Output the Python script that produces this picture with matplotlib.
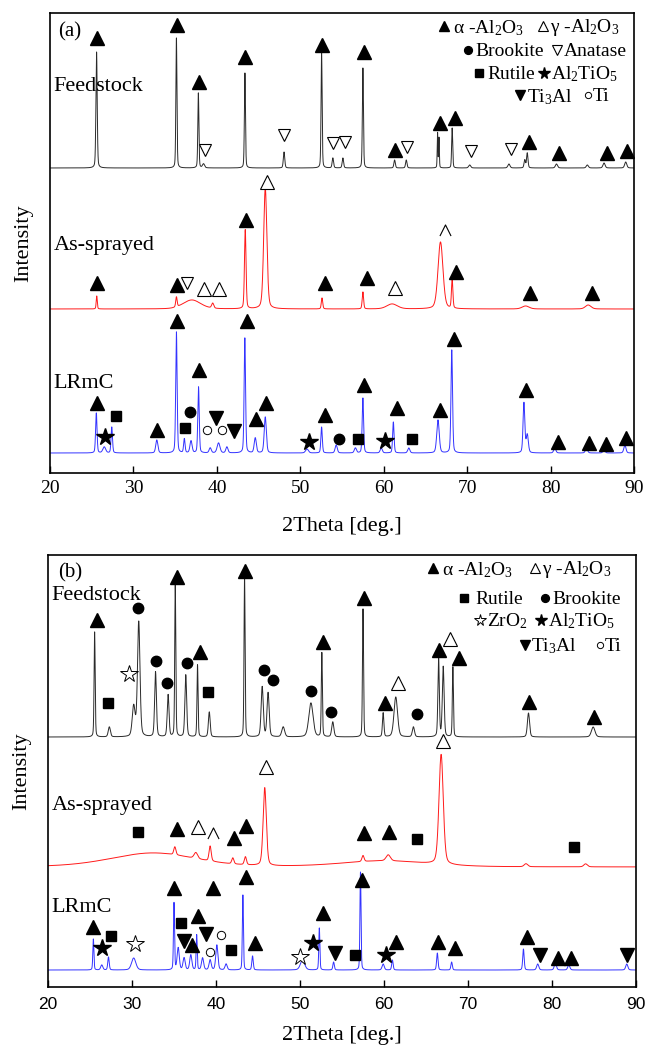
import numpy as np
import matplotlib
matplotlib.use("Agg")
import matplotlib.pyplot as plt

plt.rcParams["font.family"] = ["Liberation Serif", "DejaVu Serif"]
plt.rcParams["mathtext.fontset"] = "custom"
plt.rcParams["mathtext.rm"] = "Liberation Serif"
plt.rcParams["mathtext.default"] = "regular"

XTICKS = [20, 30, 40, 50, 60, 70, 80, 90]
X = np.arange(20, 90.001, 0.01)

# ---- panel (a): peak tables (2theta, height above baseline, FWHM) ----
A_FEED_BASE = 305
A_FEED_POS = [25.58, 35.15, 37.78, 38.4, 43.36, 48.05, 52.55, 53.9, 55.1, 57.5, 61.3, 62.7,
              66.45, 66.62, 68.2, 70.3, 75.0, 76.9, 77.2, 80.7, 84.4, 86.4, 89.0]
A_FEED_H = [116, 130, 75, 4, 95, 16, 116, 10, 10, 100, 8, 8, 35, 30, 40, 3, 4, 8, 15, 4, 3, 5, 6]
A_FEED_W = [0.18, 0.15, 0.15, 0.3, 0.15, 0.2, 0.15, 0.2, 0.2, 0.15, 0.2, 0.2, 0.1, 0.1, 0.15,
            0.3, 0.3, 0.2, 0.2, 0.3, 0.3, 0.3, 0.3]

A_SPR_BASE = 164
A_SPR_POS = [25.6, 35.15, 37.0, 39.5, 43.4, 45.8, 52.6, 57.5, 61.0, 66.8, 68.2, 77.0, 84.5]
A_SPR_H = [13, 10, 9, 5, 79, 121, 11, 17, 5, 67, 29, 3, 4]
A_SPR_W = [0.15, 0.2, 2.5, 0.3, 0.22, 0.45, 0.2, 0.2, 1.5, 0.7, 0.2, 1.0, 0.8]

A_LR_BASE = 20
A_LR_POS = [25.55, 26.5, 27.4, 32.8, 35.15, 36.1, 36.9, 37.8, 39.2, 40.2, 41.2, 43.35, 44.6,
            45.8, 50.8, 52.55, 54.3, 56.6, 57.5, 59.7, 61.15, 63.0, 66.5, 68.15, 76.8, 77.2,
            80.5, 84.3, 86.4, 88.9]
A_LR_H = [40, 6, 26, 13, 121, 14, 12, 66, 5, 10, 6, 115, 15, 36, 4, 26, 8, 5, 55, 5, 31, 5,
          33, 103, 50, 18, 5, 5, 3, 8]
A_LR_W = [0.2, 0.4, 0.2, 0.3, 0.2, 0.2, 0.3, 0.2, 0.3, 0.4, 0.3, 0.2, 0.3, 0.3, 0.4, 0.2, 0.3,
          0.3, 0.2, 0.3, 0.2, 0.3, 0.35, 0.22, 0.25, 0.3, 0.3, 0.3, 0.3, 0.3]

# ---- panel (b) ----
B_FEED_BASE = 250
B_FEED_POS = [25.55, 27.3, 30.2, 30.8, 32.8, 34.3, 35.15, 36.4, 37.8, 39.2, 43.4, 45.5, 46.2,
              48.0, 51.3, 52.6, 53.9, 57.5, 59.9, 61.4, 63.5, 66.5, 67.05, 68.2, 77.2, 84.9]
B_FEED_H = [105, 10, 30, 115, 65, 42, 152, 62, 72, 25, 160, 50, 44, 10, 34, 84, 15, 128, 24,
            40, 10, 79, 70, 70, 24, 10]
B_FEED_W = [0.15, 0.3, 0.4, 0.35, 0.25, 0.25, 0.15, 0.25, 0.15, 0.25, 0.15, 0.3, 0.3, 0.4,
            0.6, 0.15, 0.3, 0.15, 0.2, 0.5, 0.3, 0.2, 0.25, 0.15, 0.3, 0.5]

B_SPR_BASE = 120
B_SPR_POS = [32.5, 60.0, 35.1, 37.6, 39.3, 42.0, 43.5, 45.8, 57.5, 60.5, 66.8, 76.9, 84.0]
B_SPR_H = [14, 6, 8, 6, 15, 6, 8, 78, 6, 6, 110, 3, 3]
B_SPR_W = [12, 12, 0.3, 0.5, 0.3, 0.3, 0.3, 0.45, 0.3, 0.6, 0.6, 0.5, 0.5]

B_LR_BASE = 17
B_LR_POS = [25.4, 26.4, 27.2, 30.2, 35.0, 35.5, 36.2, 37.0, 37.7, 38.4, 39.3, 40.1, 41.2,
            43.2, 44.35, 50.3, 52.3, 54.0, 57.2, 59.9, 61.0, 66.35, 68.05, 76.6, 78.3, 80.4,
            82.0, 88.9]
B_LR_H = [31, 5, 13, 12, 67, 22, 12, 15, 35, 12, 10, 25, 6, 75, 14, 10, 42, 8, 98, 6, 10, 17,
          8, 21, 6, 7, 5, 6]
B_LR_W = [0.15, 0.3, 0.2, 0.6, 0.15, 0.3, 0.3, 0.3, 0.15, 0.3, 0.3, 0.3, 0.3, 0.15, 0.2, 0.6,
          0.15, 0.2, 0.15, 0.3, 0.2, 0.2, 0.2, 0.2, 0.3, 0.3, 0.3, 0.3]

# ---- phase markers: (phase, 2theta, height) ----
A_FEED_MARKS = [("a", 25.6, 435), ("a", 35.2, 448), ("a", 37.8, 391), ("a", 43.4, 416),
                ("a", 52.6, 428), ("a", 57.6, 421), ("a", 61.4, 323), ("a", 66.7, 350),
                ("a", 68.5, 355), ("a", 77.4, 331), ("a", 81.0, 320), ("a", 86.7, 320),
                ("a", 89.1, 322),
                ("n", 38.6, 323), ("n", 48.1, 338), ("n", 53.9, 330), ("n", 55.4, 331),
                ("n", 62.8, 326), ("n", 70.5, 322), ("n", 75.3, 324)]
A_SPR_MARKS = [("a", 25.6, 190), ("a", 35.2, 188), ("a", 43.5, 253), ("a", 52.9, 190),
               ("a", 58.0, 195), ("a", 68.6, 201), ("a", 77.5, 180), ("a", 84.9, 180),
               ("n", 36.4, 190), ("g", 38.5, 184), ("g", 40.3, 184), ("g", 46.0, 291),
               ("g", 61.3, 185), ("h", 67.3, 243)]
A_LR_MARKS = [("a", 25.6, 70), ("a", 32.8, 43), ("a", 35.2, 152), ("a", 37.8, 103),
              ("a", 43.6, 152), ("a", 44.7, 54), ("a", 45.9, 70), ("a", 53.0, 58),
              ("a", 57.6, 88), ("a", 61.6, 65), ("a", 66.7, 63), ("a", 68.4, 134),
              ("a", 77.0, 83), ("a", 80.9, 31), ("a", 84.6, 30), ("a", 86.6, 29),
              ("a", 89.0, 35),
              ("r", 27.9, 57), ("r", 36.2, 45), ("r", 56.9, 34), ("r", 63.4, 34),
              ("b", 36.8, 61), ("b", 54.6, 34),
              ("s", 26.6, 36), ("s", 51.0, 31), ("s", 60.2, 32),
              ("t", 39.9, 55), ("t", 42.1, 42), ("c", 38.8, 43), ("c", 40.6, 43)]

B_FEED_MARKS = [("a", 25.8, 367), ("a", 35.3, 410), ("a", 38.1, 335), ("a", 43.5, 416),
                ("a", 52.7, 345), ("a", 57.6, 389), ("a", 60.1, 284), ("a", 66.6, 337),
                ("a", 68.9, 329), ("a", 77.3, 285), ("a", 85.0, 270),
                ("g", 61.7, 304), ("g", 67.9, 348),
                ("b", 30.7, 379), ("b", 32.9, 326), ("b", 34.2, 304), ("b", 36.5, 324),
                ("b", 45.7, 317), ("b", 46.8, 307), ("b", 51.3, 296), ("b", 53.7, 275),
                ("b", 63.9, 273),
                ("r", 27.2, 284), ("r", 39.1, 295), ("z", 29.7, 313)]
B_SPR_MARKS = [("g", 46.0, 220), ("g", 67.0, 246), ("g", 37.8, 160), ("h", 39.6, 154),
               ("r", 30.7, 155), ("r", 63.9, 148), ("r", 82.6, 140),
               ("a", 35.3, 158), ("a", 42.1, 149), ("a", 43.6, 161), ("a", 57.6, 154),
               ("a", 60.6, 155)]
B_LR_MARKS = [("a", 25.4, 60), ("a", 35.0, 99), ("a", 37.2, 42), ("a", 37.9, 71),
              ("a", 39.6, 99), ("a", 43.6, 110), ("a", 44.6, 44), ("a", 52.7, 74),
              ("a", 57.4, 107), ("a", 61.4, 45), ("a", 66.4, 45), ("a", 68.4, 39),
              ("a", 77.0, 50), ("a", 80.7, 29), ("a", 82.3, 29),
              ("r", 27.5, 51), ("r", 35.8, 64), ("r", 41.8, 37), ("r", 56.5, 32),
              ("t", 36.2, 46), ("t", 38.8, 53), ("t", 54.2, 34), ("t", 78.6, 32),
              ("t", 88.9, 32), ("c", 39.3, 35), ("c", 40.6, 52),
              ("s", 26.4, 39), ("s", 51.5, 44), ("s", 60.2, 32),
              ("z", 30.4, 43), ("z", 50.0, 30)]

SAMPLES = ["Feedstock", "As-sprayed", "LRmC"]
COLORS = ["#2a2a2a", "#ff1a1a", "#3333ff"]

STYLE = {
    "a": dict(marker="^", ms=10, mfc="k", mec="k"),
    "g": dict(marker="^", ms=10, mfc="white", mec="k", mew=0.8),
    "n": dict(marker="v", ms=9, mfc="white", mec="k", mew=0.8),
    "t": dict(marker="v", ms=10, mfc="k", mec="k"),
    "b": dict(marker="o", ms=7.5, mfc="k", mec="k"),
    "r": dict(marker="s", ms=7, mfc="k", mec="k"),
    "s": dict(marker="*", ms=13, mfc="k", mec="k"),
    "z": dict(marker="*", ms=13, mfc="white", mec="k", mew=0.7),
    "c": dict(marker="o", ms=6, mfc="white", mec="k", mew=0.7),
    "h": dict(marker=[(-1, -1), (0, 1), (1, -1)], ms=8, mfc="none", mec="k", mew=0.8),
}


def trace(base, pos, hgt, wid):
    y = np.full_like(X, float(base))
    for p, h, w in zip(pos, hgt, wid):
        d = (X - p) / (w / 2)
        y += h * (0.3 / (1 + d ** 2) + 0.7 * np.exp(-np.log(2) * d ** 2))
    return y


def marks(ax, items):
    for ph, x, y in items:
        ax.plot(x, y, linestyle="none", zorder=5, **STYLE[ph])


def legend(ax, rows):
    # rows: list of (y, [(phase, xm, text, xt), ...]) in axes fraction; legend symbols are smaller
    for y, entries in rows:
        for ph, xm, txt, xt in entries:
            st = dict(STYLE[ph])
            st["ms"] = st["ms"] * (0.65 if ph in "sz" else 0.75)
            ax.plot(xm, y, transform=ax.transAxes, linestyle="none", zorder=6, **st)
            ax.text(xt, y - 0.004, txt, transform=ax.transAxes, fontsize=14,
                    va="center", ha="left")


fig = plt.figure(figsize=(6.47, 10.46), dpi=100)
ax_a = fig.add_axes([0.0773, 0.5478, 0.9027, 0.4398])
ax_b = fig.add_axes([0.0742, 0.0564, 0.9088, 0.4130])

panels = [
    (ax_a, 460, [(A_FEED_BASE, A_FEED_POS, A_FEED_H, A_FEED_W),
                 (A_SPR_BASE, A_SPR_POS, A_SPR_H, A_SPR_W),
                 (A_LR_BASE, A_LR_POS, A_LR_H, A_LR_W)],
     [A_FEED_MARKS, A_SPR_MARKS, A_LR_MARKS], [386, 227, 89]),
    (ax_b, 432, [(B_FEED_BASE, B_FEED_POS, B_FEED_H, B_FEED_W),
                 (B_SPR_BASE, B_SPR_POS, B_SPR_H, B_SPR_W),
                 (B_LR_BASE, B_LR_POS, B_LR_H, B_LR_W)],
     [B_FEED_MARKS, B_SPR_MARKS, B_LR_MARKS], [392, 182, 80]),
]

for ax, top, tables, mlists, label_y in panels:
    for (base, pos, h, w), col, ml, name, ly in zip(tables, COLORS, mlists, SAMPLES, label_y):
        ax.plot(X, trace(base, pos, h, w), color=col, lw=0.7)
        marks(ax, ml)
        ax.text(20.4, ly, name, fontsize=16, va="center", ha="left")
    ax.set_xlim(20, 90)
    ax.set_ylim(0, top)
    ax.set_yticks([])
    ax.set_xticks(XTICKS)
    ax.tick_params(axis="x", direction="in", length=5, width=1)
    for s in ax.spines.values():
        s.set_linewidth(1.2)
    ax.set_ylabel("Intensity", fontsize=16, labelpad=12)
    ax.set_xlabel("2Theta [deg.]", fontsize=16)

ax_a.set_xticklabels([str(t) for t in XTICKS], fontsize=14)
ax_a.tick_params(axis="x", pad=5)
ax_a.xaxis.set_label_coords(0.5, -0.095)
ax_b.set_xticklabels([str(t) for t in XTICKS], fontsize=12.5, fontfamily="Liberation Sans")
ax_b.tick_params(axis="x", pad=7)
ax_b.xaxis.set_label_coords(0.5, -0.09)

ax_a.text(0.014, 0.959, "(a)", transform=ax_a.transAxes, fontsize=15, va="center")
ax_b.text(0.017, 0.958, "(b)", transform=ax_b.transAxes, fontsize=15, va="center")

legend(ax_a, [
    (0.972, [("a", 0.675, "α -Al$_2$O$_3$", 0.690), ("g", 0.844, "γ -Al$_2$O$_3$", 0.856)]),
    (0.920, [("b", 0.715, "Brookite", 0.728), ("n", 0.868, "Anatase", 0.880)]),
    (0.870, [("r", 0.735, "Rutile", 0.749), ("s", 0.845, "Al$_2$TiO$_5$", 0.857)]),
    (0.822, [("t", 0.805, "Ti$_3$Al", 0.816), ("c", 0.921, "Ti", 0.929)]),
])
legend(ax_b, [
    (0.970, [("a", 0.655, "α -Al$_2$O$_3$", 0.670), ("g", 0.828, "γ -Al$_2$O$_3$", 0.840)]),
    (0.900, [("r", 0.708, "Rutile", 0.726), ("b", 0.845, "Brookite", 0.857)]),
    (0.850, [("z", 0.735, "ZrO$_2$", 0.746), ("s", 0.838, "Al$_2$TiO$_5$", 0.850)]),
    (0.792, [("t", 0.811, "Ti$_3$Al", 0.822), ("c", 0.939, "Ti", 0.947)]),
])

fig.savefig("out.png", dpi=100)
print("saved out.png")
